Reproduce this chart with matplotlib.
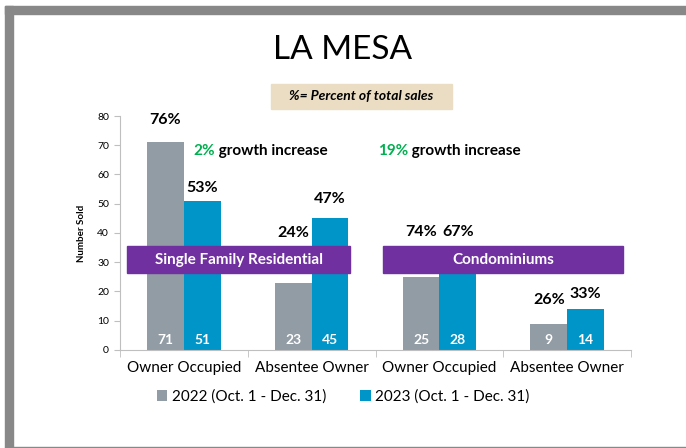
import numpy as np
import matplotlib.pyplot as plt
from matplotlib.patches import Rectangle

plt.rcParams['font.family'] = ['Lato', 'DejaVu Sans']

categories = ['Owner Occupied', 'Absentee Owner', 'Owner Occupied', 'Absentee Owner']
sold_2022 = [71, 23, 25, 9]
sold_2023 = [51, 45, 28, 14]
pct_2022 = ['76%', '24%', '74%', '26%']
pct_2023 = ['53%', '47%', '67%', '33%']
pct_2022_y = [78.5, 40, 40.3, 17]
pct_2023_y = [55.5, 51.5, 40.3, 19]
growth = ['2%', '19%']
groups = ['Single Family Residential', 'Condominiums']
series = ['2022 (Oct. 1 - Dec. 31)', '2023 (Oct. 1 - Dec. 31)']

gray = '#929CA4'
blue = '#0095C8'
purple = '#7030A0'

fig = plt.figure(figsize=(6.86, 4.48), dpi=100)
ax = fig.add_axes([0.175, 0.219, 0.745, 0.522])

x = np.arange(len(categories))
w = 0.288
ax.bar(x - w / 2, sold_2022, w, color=gray, label=series[0])
ax.bar(x + w / 2, sold_2023, w, color=blue, label=series[1])

for i in range(len(categories)):
    ax.text(x[i] - w / 2, 3.4, str(sold_2022[i]), ha='center', va='center',
            color='white', fontsize=10, fontweight='bold')
    ax.text(x[i] + w / 2, 3.4, str(sold_2023[i]), ha='center', va='center',
            color='white', fontsize=10, fontweight='bold')
    ax.text(x[i] - w / 2, pct_2022_y[i], pct_2022[i], ha='center', va='center',
            fontsize=11.5, fontweight='bold')
    ax.text(x[i] + w / 2, pct_2023_y[i], pct_2023[i], ha='center', va='center',
            fontsize=11.5, fontweight='bold')

# purple group banners
for (x0, x1), name in zip([(-0.445, 1.30), (1.555, 3.44)], groups):
    ax.add_patch(Rectangle((x0, 26.3), x1 - x0, 9.2, color=purple, clip_on=False, zorder=3))
    ax.text((x0 + x1) / 2, 30.9, name, ha='center', va='center', color='white',
            fontsize=11, fontweight='bold', zorder=4)

# growth notes
for gx, g in zip([0.07, 1.516], growth):
    t = ax.text(gx, 68, g, ha='left', va='center', color='#00B050',
                fontsize=11, fontweight='bold')
    ax.annotate(' growth increase', xy=(1, 0.5), xycoords=t, ha='left', va='center',
                fontsize=11, fontweight='bold')

ax.set_xlim(-0.5, 3.5)
ax.set_ylim(0, 80)
ax.set_yticks(range(0, 81, 10))
ax.set_xticks(x)
ax.set_xticklabels(categories, fontsize=11)
ax.set_xticks(np.arange(-0.5, 4, 1), minor=True)
ax.tick_params(axis='x', which='major', length=0, pad=8)
ax.tick_params(axis='x', which='minor', length=5, color='#BFBFBF')
ax.tick_params(axis='y', labelsize=7.5, length=4, color='#BFBFBF', pad=4)
ax.set_ylabel('Number Sold', fontsize=7, fontweight='bold', labelpad=8)
for s in ['top', 'right']:
    ax.spines[s].set_visible(False)
ax.spines['left'].set_color('#BFBFBF')
ax.spines['bottom'].set_color('#BFBFBF')

fig.legend(loc='center', bbox_to_anchor=(0.5, 0.114), ncol=2, frameon=False,
           fontsize=11, handlelength=0.7, handleheight=0.7, columnspacing=2.2,
           handletextpad=0.3)

fig.text(0.5, 0.888, 'LA MESA', ha='center', va='center', fontsize=24)
fig.patches.append(Rectangle((0.395, 0.757), 0.264, 0.056, transform=fig.transFigure,
                             color='#EADDC3', zorder=0))
fig.text(0.527, 0.785, '%= Percent of total sales', ha='center', va='center',
         fontsize=10, fontweight='bold', style='italic')

# slide frame
fig.patches.append(Rectangle((0.0073, 0.969), 0.9927, 0.018, transform=fig.transFigure,
                             color='#888888', zorder=0))
fig.patches.append(Rectangle((0.0073, 0.002), 0.0117, 0.985, transform=fig.transFigure,
                             color='#888888', zorder=0))
fig.patches.append(Rectangle((0.0073, 0.0), 0.9927, 0.003, transform=fig.transFigure,
                             color='#888888', zorder=0))

fig.savefig('out.png', dpi=100)
